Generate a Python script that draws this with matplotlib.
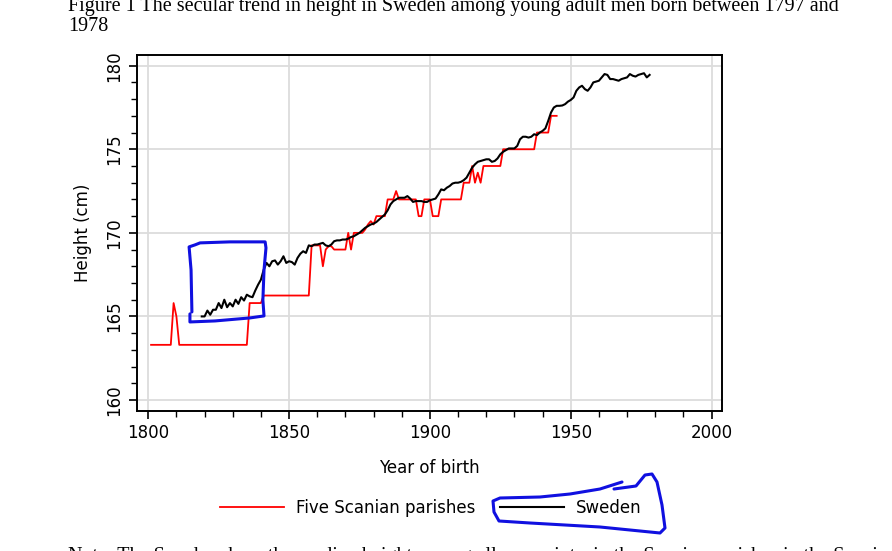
import matplotlib
matplotlib.use("Agg")
import matplotlib.pyplot as plt
from matplotlib.ticker import MultipleLocator

# ================= DATA =================
# Five Scanian parishes, annual values 1801-1945
parish_years = list(range(1801, 1946))
parish_height = (
    [163.3] * 8                      # 1801-1808
    + [165.8, 165.0]                 # 1809-1810
    + [163.3] * 25                   # 1811-1835
    + [165.8] * 5                    # 1836-1840
    + [166.25] * 17                  # 1841-1857
    + [169.25, 169.25, 169.25, 169.25, 168.0, 169.0, 169.2, 169.2,   # 1858-1865
       169.0, 169.0, 169.0, 169.0, 169.0, 170.0, 169.0, 170.0,       # 1866-1873
       170.0, 170.0, 170.0, 170.2, 170.5, 170.7, 170.5, 171.0,       # 1874-1881
       171.0, 171.0, 171.0, 172.0, 172.0, 172.0, 172.5, 172.0,       # 1882-1889
       172.0, 172.0, 172.0, 172.0, 172.0, 172.0, 171.0, 171.0,       # 1890-1897
       172.0, 172.0, 172.0, 171.0, 171.0, 171.0, 172.0, 172.0,       # 1898-1905
       172.0, 172.0, 172.0, 172.0, 172.0, 172.0, 173.0, 173.0,       # 1906-1913
       173.0, 174.0, 173.0, 173.6, 173.0, 174.0, 174.0, 174.0,       # 1914-1921
       174.0, 174.0, 174.0, 174.0, 175.0, 175.0, 175.0, 175.0,       # 1922-1929
       175.0, 175.0, 175.0, 175.0, 175.0, 175.0, 175.0, 175.0,       # 1930-1937
       176.0, 176.0, 176.0, 176.0, 176.0, 177.0, 177.0, 177.0]       # 1938-1945
)

# Sweden, annual values 1819-1978
sweden_years = list(range(1819, 1979))
sweden_height = [
    165.0, 165.0, 165.35, 165.1, 165.4, 165.4, 165.8, 165.5, 166.0, 165.55,    # 1819-1828
    165.8, 165.6, 166.0, 165.75, 166.15, 165.95, 166.3, 166.2, 166.15, 166.55,  # 1829-1838
    166.9, 167.2, 167.8, 168.2, 168.0, 168.3, 168.35, 168.1, 168.3, 168.6,      # 1839-1848
    168.2, 168.3, 168.25, 168.1, 168.5, 168.75, 168.9, 168.8, 169.25, 169.2,    # 1849-1858
    169.3, 169.3, 169.35, 169.4, 169.25, 169.2, 169.3, 169.5, 169.55, 169.55,   # 1859-1868
    169.6, 169.6, 169.65, 169.75, 169.8, 169.9, 170.0, 170.15, 170.3, 170.4,    # 1869-1878
    170.5, 170.55, 170.65, 170.8, 170.95, 171.1, 171.35, 171.7, 171.9, 172.0,   # 1879-1888
    172.1, 172.1, 172.1, 172.2, 172.05, 171.85, 171.9, 171.9, 171.9, 171.85,    # 1889-1898
    171.85, 171.95, 172.0, 172.05, 172.3, 172.6, 172.55, 172.7, 172.8, 172.95,  # 1899-1908
    173.0, 173.0, 173.05, 173.15, 173.3, 173.6, 173.9, 174.1, 174.25, 174.3,    # 1909-1918
    174.35, 174.4, 174.4, 174.25, 174.3, 174.45, 174.7, 174.85, 174.95, 175.05, # 1919-1928
    175.05, 175.05, 175.2, 175.6, 175.75, 175.75, 175.7, 175.75, 175.9, 175.85, # 1929-1938
    176.0, 176.1, 176.25, 176.7, 177.2, 177.5, 177.6, 177.6, 177.62, 177.7,     # 1939-1948
    177.85, 177.95, 178.1, 178.5, 178.7, 178.8, 178.6, 178.5, 178.7, 179.0,     # 1949-1958
    179.05, 179.1, 179.3, 179.5, 179.45, 179.2, 179.2, 179.15, 179.1, 179.2,    # 1959-1968
    179.25, 179.3, 179.5, 179.4, 179.35, 179.45, 179.5, 179.55, 179.3, 179.45,  # 1969-1978
]

x_ticks = [1800, 1850, 1900, 1950, 2000]
y_ticks = [160, 165, 170, 175, 180]

# hand-drawn blue highlight marks (year, height) and legend loop (figure px)
highlight_box = [
    (1815.5, 165.27), (1815.2, 167.78), (1814.5, 169.16), (1816.6, 169.28),
    (1818.4, 169.4), (1829.0, 169.46), (1841.5, 169.46), (1841.8, 169.1),
    (1841.1, 167.78), (1840.7, 165.99), (1841.1, 165.03), (1836.1, 164.91),
    (1823.7, 164.73), (1814.8, 164.67), (1814.8, 165.15),
]
legend_loop_px = [
    (622, 482), (600, 489), (570, 494), (540, 497), (500, 498), (493, 501),
    (494, 512), (499, 521), (530, 523), (600, 527), (660, 533), (665, 528),
    (662, 505), (657, 482), (652, 474), (645, 475), (636, 486), (614, 489),
]

TITLE = ("Figure 1 The secular trend in height in Sweden among young adult "
         "men born between 1797 and")
NOTE = ("Note: The Swedes show the median height among all conscripts, "
        "in the Scanian parishes in the Scanian")

W, H = 892, 551
FS = 12


def main():
    fig = plt.figure(figsize=(W / 100, H / 100), dpi=100)
    ax = fig.add_axes([136.7 / W, 1 - 410.7 / H, (722 - 136.7) / W, (410.7 - 55) / H])

    ax.plot(parish_years, parish_height, color="red", lw=1.3,
            label="Five Scanian parishes", zorder=3)
    ax.plot(sweden_years, sweden_height, color="black", lw=1.5,
            label="Sweden", zorder=4)

    ax.set_xlim(1795.9, 2003.7)
    ax.set_ylim(159.36, 180.64)
    ax.set_xticks(x_ticks)
    ax.set_yticks(y_ticks)
    ax.xaxis.set_minor_locator(MultipleLocator(10))
    ax.yaxis.set_minor_locator(MultipleLocator(1))
    ax.tick_params(which="major", length=6, width=1.2, labelsize=FS)
    ax.tick_params(which="minor", length=4, width=1.0)
    for lbl in ax.get_yticklabels():
        lbl.set_rotation(90)
        lbl.set_va("center")
    ax.grid(True, which="major", color="#dcdcdc", lw=1.3, zorder=0)
    for sp in ax.spines.values():
        sp.set_linewidth(1.4)

    ax.set_xlabel("Year of birth", fontsize=FS, labelpad=12)
    ax.set_ylabel("Height (cm)", fontsize=FS, labelpad=10)

    # blue pen annotation around the early Swedish series
    bx, by = zip(*highlight_box)
    ax.plot(bx, by, color="#1010e0", lw=2.2, solid_capstyle="round", zorder=5)

    handles, labels = ax.get_legend_handles_labels()
    fig.legend(handles, labels, loc="center", bbox_to_anchor=(431 / W, 1 - 508 / H),
               ncol=2, frameon=False, fontsize=FS, handlelength=3.8,
               handletextpad=0.75, columnspacing=1.5)

    lx = [p[0] / W for p in legend_loop_px]
    ly = [1 - p[1] / H for p in legend_loop_px]
    fig.add_artist(plt.Line2D(lx, ly, color="#1010e0", lw=2.2,
                              transform=fig.transFigure, solid_capstyle="round"))

    fig.text(68 / W, 1 - 11 / H, TITLE, family="Liberation Serif", fontsize=14.5,
             va="baseline", ha="left")
    fig.text(68 / W, 1 - 31 / H, "1978", family="Liberation Serif", fontsize=14.5,
             va="baseline", ha="left")
    fig.text(68 / W, 1 - 561 / H, NOTE, family="Liberation Serif", fontsize=14.5,
             va="baseline", ha="left")

    fig.savefig("out.png", dpi=100)
    plt.close(fig)


if __name__ == "__main__":
    main()
